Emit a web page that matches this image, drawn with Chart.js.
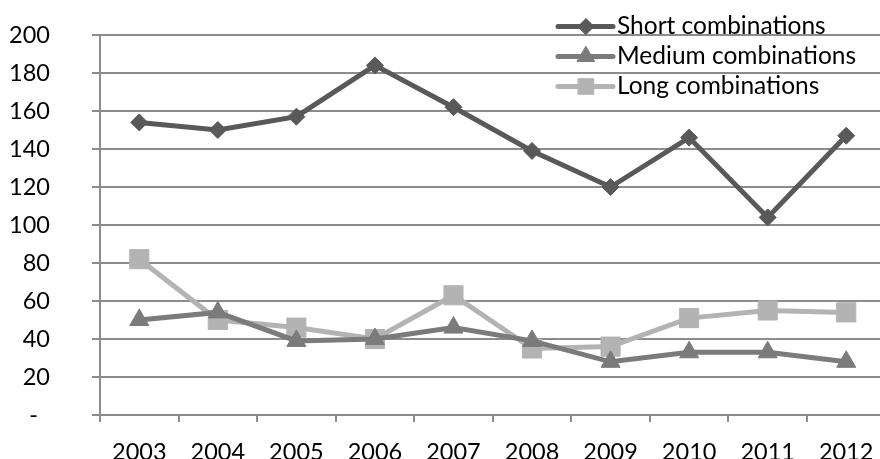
<!DOCTYPE html>
<html>
<head>
<meta charset="utf-8">
<script src="https://cdn.jsdelivr.net/npm/chart.js@4/dist/chart.umd.min.js"></script>
<style>
  html, body { margin: 0; padding: 0; background: #ffffff; overflow: hidden; }
  #wrap { width: 880px; height: 459px; overflow: hidden; }
  canvas { display: block; }
</style>
</head>
<body>
<div id="wrap"><canvas id="chart" width="900" height="459"></canvas></div>
<script>
// Years on the category axis
const years = ['2003', '2004', '2005', '2006', '2007', '2008', '2009', '2010', '2011', '2012'];

// Counts per year for each combination length
const shortCombinations  = [154, 150, 157, 184, 162, 139, 120, 146, 104, 147];
const mediumCombinations = [50, 54, 39, 40, 46, 39, 28, 33, 33, 28];
const longCombinations   = [82, 50, 46, 40, 63, 35, 36, 51, 55, 54];

// Value axis ticks
const yTicks = [0, 20, 40, 60, 80, 100, 120, 140, 160, 180, 200];

const FONT = 'Lato, "Open Sans", sans-serif';

const seriesStyle = [
  { label: 'Short combinations',  data: shortCombinations,  color: '#595959', shape: 'rectRot',  radius: 8.5 },
  { label: 'Medium combinations', data: mediumCombinations, color: '#7b7b7b', shape: 'triangle', radius: 11 },
  { label: 'Long combinations',   data: longCombinations,   color: '#b3b3b3', shape: 'rect',     radius: 13.5 }
];

// Legend drawn inside the plot, top right: line + marker + text
const insideLegend = {
  id: 'insideLegend',
  afterDraw(chart) {
    const ctx = chart.ctx;
    const rows = [26.5, 56.5, 86.5];
    const x0 = 558, x1 = 613, xm = 586, tx = 617;
    const legendRadius = [8, 10, 11];
    ctx.save();
    chart.data.datasets.forEach((ds, i) => {
      const y = rows[i];
      ctx.strokeStyle = ds.borderColor;
      ctx.lineWidth = 5;
      ctx.lineCap = 'round';
      ctx.beginPath();
      ctx.moveTo(x0, y);
      ctx.lineTo(x1, y);
      ctx.stroke();
      ctx.fillStyle = ds.pointBackgroundColor;
      ctx.strokeStyle = ds.pointBorderColor;
      ctx.lineWidth = 1;
      Chart.helpers.drawPoint(ctx, {
        pointStyle: ds.pointStyle,
        radius: legendRadius[i],
        rotation: 0,
        borderWidth: 1
      }, xm, y);
      ctx.fillStyle = '#000000';
      ctx.font = '24.5px ' + FONT;
      ctx.textAlign = 'left';
      ctx.textBaseline = 'middle';
      ctx.fillText(ds.label, tx, y);
    });
    ctx.restore();
  }
};

new Chart(document.getElementById('chart'), {
  type: 'line',
  data: {
    labels: years,
    datasets: seriesStyle.map(s => ({
      label: s.label,
      data: s.data,
      borderColor: s.color,
      backgroundColor: s.color,
      pointBackgroundColor: s.color,
      pointBorderColor: s.color,
      borderWidth: 5,
      pointStyle: s.shape,
      pointRadius: s.radius,
      pointHoverRadius: s.radius,
      pointBorderWidth: 1,
      tension: 0,
      fill: false
    }))
  },
  options: {
    responsive: false,
    animation: false,
    events: [],
    layout: { padding: { top: 35, right: 7.4, left: 0, bottom: 0 } },
    plugins: {
      legend: { display: false },
      tooltip: { enabled: false }
    },
    scales: {
      x: {
        type: 'category',
        offset: true,
        grid: {
          offset: true,
          drawOnChartArea: false,
          drawTicks: true,
          tickLength: 7,
          color: '#8c8c8c',
          lineWidth: 2
        },
        border: { display: true, color: '#8c8c8c', width: 2 },
        ticks: {
          color: '#000000',
          font: { family: FONT, size: 23.5 },
          padding: 16,
          maxRotation: 0,
          autoSkip: false
        },
        afterFit(scale) { scale.height = 44; }
      },
      y: {
        min: 0,
        max: 200,
        afterBuildTicks(scale) { scale.ticks = yTicks.map(v => ({ value: v })); },
        grid: {
          color: '#8c8c8c',
          lineWidth: 2,
          drawTicks: true,
          tickLength: 8
        },
        border: { display: true, color: '#8c8c8c', width: 2 },
        ticks: {
          color: '#000000',
          font: { family: FONT, size: 23.5 },
          padding: 42,
          callback: v => (v === 0 ? '-  ' : String(v))
        },
        afterFit(scale) {
          // fixed axis band; keep the wide label gap from padding the plot vertically
          scale.width = 100;
          scale.paddingTop = 14;
          scale.paddingBottom = 14;
        }
      }
    }
  },
  plugins: [insideLegend]
});
</script>
</body>
</html>
